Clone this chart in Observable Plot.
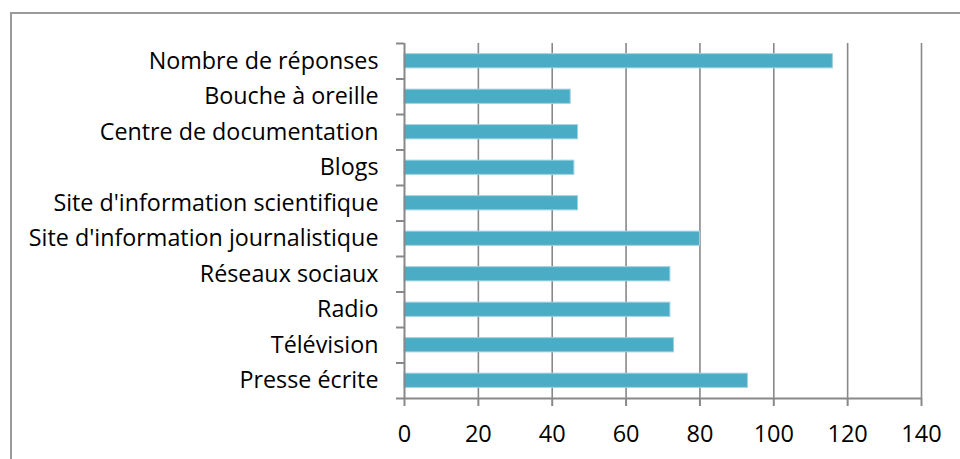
<!DOCTYPE html>
<html>
<head>
<meta charset="utf-8">
<script src="https://cdn.jsdelivr.net/npm/d3@7"></script>
<script src="https://cdn.jsdelivr.net/npm/@observablehq/plot@0.6"></script>
<style>
  html, body { margin: 0; padding: 0; background: #fff; }
  #wrap { position: relative; width: 960px; height: 459px; overflow: hidden; }
  #frame { position: absolute; left: 10px; top: 12px; width: 1000px; height: 500px;
           border-top: 2px solid #9a9a9a; border-left: 2px solid #9a9a9a; box-sizing: border-box; }
  #chart { position: absolute; left: 0; top: 0; }
</style>
</head>
<body>
<div id="wrap">
  <div id="frame"></div>
  <div id="chart"></div>
</div>
<script>
// Categories from top to bottom
const categories = [
  "Nombre de réponses",
  "Bouche à oreille",
  "Centre de documentation",
  "Blogs",
  "Site d'information scientifique",
  "Site d'information journalistique",
  "Réseaux sociaux",
  "Radio",
  "Télévision",
  "Presse écrite"
];
const values = [116, 45, 47, 46, 47, 80, 72, 72, 73, 93];
const xTicks = [0, 20, 40, 60, 80, 100, 120, 140];

const data = categories.map((c, i) => ({i, c, v: values[i]}));
const centers = categories.map((c, i) => i);
const boundaries = d3.range(-0.5, categories.length, 1);
const half = 0.2; // half bar thickness in band units
const gray = "#888888";
const font = "'Open Sans', 'Noto Sans', sans-serif";

const chart = Plot.plot({
  width: 960,
  height: 459,
  marginLeft: 404,
  marginRight: 39,
  marginTop: 43,
  marginBottom: 61,
  style: {fontFamily: font, background: "transparent", color: "#000"},
  x: {domain: [0, 140], ticks: xTicks},
  y: {domain: [-0.5, categories.length - 0.5], reverse: true},
  marks: [
    Plot.gridX(xTicks.slice(1), {stroke: gray, strokeOpacity: 1, strokeWidth: 1.6}),
    Plot.rectX(data, {
      x1: 0, x2: "v",
      y1: d => d.i - half, y2: d => d.i + half,
      fill: "#4BACC6", stroke: "#9fd2df", strokeWidth: 1
    }),
    Plot.ruleX([0], {stroke: gray, strokeWidth: 2}),
    Plot.ruleY([boundaries[boundaries.length - 1]], {stroke: gray, strokeWidth: 2}),
    Plot.axisX({ticks: xTicks, tickSize: 8, tickPadding: 19, stroke: gray, strokeWidth: 2,
                fontSize: 23.5, label: null, tickFormat: d => String(d)}),
    Plot.axisY({ticks: boundaries, tickSize: 8, tickFormat: () => "", stroke: gray,
                strokeWidth: 2, label: null}),
    Plot.axisY({ticks: centers, tickSize: 0, tickPadding: 26, fontSize: 23.3,
                tickFormat: i => categories[i], label: null})
  ]
});
document.getElementById("chart").appendChild(chart);
</script>
</body>
</html>
